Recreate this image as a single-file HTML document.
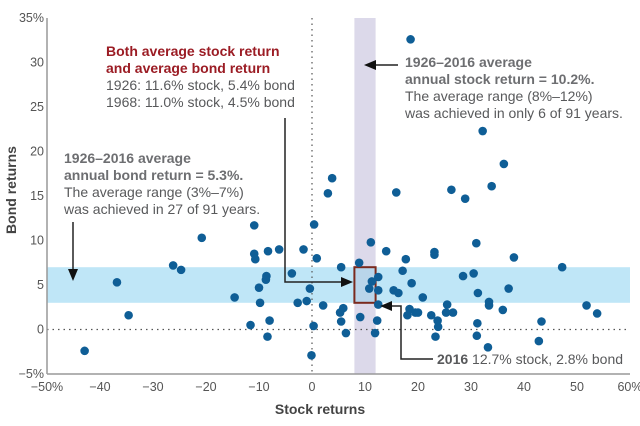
<!DOCTYPE html>
<html><head><meta charset="utf-8">
<style>
html,body{margin:0;padding:0;background:#fff;}
svg{display:block;font-family:"Liberation Sans",Arial,sans-serif;}
</style></head>
<body>
<svg id="chart" width="640" height="426" viewBox="0 0 640 426" xmlns="http://www.w3.org/2000/svg">
<g id="bands"></g>
<g id="axes"></g>
<g id="dots"></g>
<g id="notes"></g>
</svg>
<script>
const xTicks = [-50,-40,-30,-20,-10,0,10,20,30,40,50,60];
const xTickLabels = ["\u221250%","\u221240","\u221230","\u221220","\u221210","0","10","20","30","40","50","60%"];
const yTicks = [-5,0,5,10,15,20,25,30,35];
const yTickLabels = ["\u22125%","0","5","10","15","20","25","30","35%"];
const stockBand = [8,12];
const bondBand = [3,7];
const stockReturns = [-42.9,-36.8,-34.6,-26.2,-24.7,-20.8,-14.6,-11.6,-10.9,-10.9,-10.7,-8.6,-8.7,-10.0,-9.8,-8.0,-8.4,-8.3,-6.2,-3.8,-2.7,-1.6,-1.0,-0.4,0.4,0.9,0.3,-0.1,2.1,
 18.6,32.2,36.2,3.0,3.8,15.9,26.3,33.9,28.9,11.1,14.0,31.0,23.1,23.1,17.7,38.1,47.2,5.5,8.9,17.1,28.5,30.5,12.5,11.3,18.8,10.8,12.5,15.4,16.3,31.3,37.1,20.9,25.5,33.4,33.4,51.8,53.8,12.5,
 5.9,5.3,5.5,6.4,9.1,12.3,11.9,18.4,18.0,19.5,20.0,22.5,23.7,23.8,23.3,25.3,26.6,31.2,31.1,33.2,36.0,43.3,42.8];
const bondReturns = [-2.4,5.3,1.6,7.2,6.7,10.3,3.6,0.5,11.7,8.5,7.9,6.0,5.6,4.7,3.0,1.0,-0.8,8.8,9.0,6.3,3.0,9.0,3.2,4.6,11.8,8.0,0.4,-2.9,2.7,
 32.6,22.3,18.6,15.3,17.0,15.4,15.7,16.1,14.7,9.8,8.8,9.7,8.7,8.4,7.9,8.1,7.0,7.0,7.5,6.6,6.0,6.3,5.9,5.4,5.2,4.6,4.4,4.4,4.1,4.1,4.6,3.6,2.8,3.1,2.7,2.7,1.8,2.8,
 2.4,1.9,0.9,-0.4,1.4,1.0,-0.4,2.3,1.6,1.9,1.9,1.6,1.0,0.3,-0.8,1.9,1.9,0.7,-0.7,-2.0,2.2,0.9,-1.3];

const X0=47, X1=630, Y0=374, Y1=18;
const xs = v => X0 + (v+50)/110*(X1-X0);
const ys = v => Y0 - (v+5)/40*(Y0-Y1);
const NS="http://www.w3.org/2000/svg";
function mk(tag, attrs, parent, text){
  const e=document.createElementNS(NS,tag);
  for(const k in attrs) e.setAttribute(k,attrs[k]);
  if(text!==undefined) e.textContent=text;
  parent.appendChild(e); return e;
}
const bands=document.getElementById('bands'), axes=document.getElementById('axes'),
      dots=document.getElementById('dots'), notes=document.getElementById('notes');

let r=mk('rect',{x:xs(stockBand[0]),y:Y1,width:xs(stockBand[1])-xs(stockBand[0]),height:Y0-Y1,fill:'#dcd9ea'},bands);


r=mk('rect',{x:X0,y:ys(bondBand[1]),width:X1-X0,height:ys(bondBand[0])-ys(bondBand[1]),fill:'#bfe6f7'},bands);


r=mk('rect',{x:xs(stockBand[0]),y:ys(bondBand[1]),width:xs(stockBand[1])-xs(stockBand[0]),height:ys(bondBand[0])-ys(bondBand[1]),fill:'#b9d5ea',stroke:'#7a2a1e','stroke-width':2},bands);



let l=mk('line',{x1:X0,x2:X1,y1:ys(0),y2:ys(0),stroke:'#555','stroke-width':1.2,'stroke-dasharray':'1.5 4'},axes);


l=mk('line',{x1:xs(0),x2:xs(0),y1:Y1,y2:Y0,stroke:'#555','stroke-width':1.2,'stroke-dasharray':'1.5 4'},axes);


l=mk('line',{x1:X0,x2:X0,y1:Y1,y2:Y0,stroke:'#999','stroke-width':1.5},axes);


l=mk('line',{x1:X0,x2:X1,y1:Y0,y2:Y0,stroke:'#999','stroke-width':1.5},axes);



xTicks.forEach((v,i)=>{
  const t=mk('text',{x:xs(v),y:391,'text-anchor':'middle','font-size':12.5,fill:'#555'},axes,xTickLabels[i]);
  
  
});
yTicks.forEach((v,i)=>{
  const t=mk('text',{x:44,y:ys(v)+4,'text-anchor':'end','font-size':12.5,fill:'#555'},axes,yTickLabels[i]);
  
  
});
let t=mk('text',{x:320,y:414,'text-anchor':'middle','font-size':14,'font-weight':'bold',fill:'#444'},axes,'Stock returns');


t=mk('text',{x:0,y:0,'text-anchor':'middle','font-size':14,'font-weight':'bold',fill:'#444',transform:'translate(16,190) rotate(-90)'},axes,'Bond returns');



stockReturns.forEach((s,i)=>{
  const c=mk('circle',{cx:xs(s),cy:ys(bondReturns[i]),r:4.3,fill:'#0f5e96'},dots);
  
  
});

function lines(x,y0,arr,parent,name){
  const g=mk('text',{'font-size':14},parent);
  
  
  arr.forEach((a,i)=>{
    mk('tspan',{x:x,y:y0+i*17,fill:a[1],'font-weight':a[2]?'bold':'normal'},g,a[0]);
  });
}
lines(106,56,[["Both average stock return","#9b1c24",1],["and average bond return","#9b1c24",1],["1926: 11.6% stock, 5.4% bond","#58595b"],["1968: 11.0% stock, 4.5% bond","#58595b"]],notes,'both-average-note');
lines(405,67,[["1926\u20132016 average","#6d6e71",1],["annual stock return = 10.2%.","#6d6e71",1],["The average range (8%\u201312%)","#58595b"],["was achieved in only 6 of 91 years.","#58595b"]],notes,'stock-average-note');
lines(64,163,[["1926\u20132016 average","#6d6e71",1],["annual bond return = 5.3%.","#6d6e71",1],["The average range (3%\u20137%)","#58595b"],["was achieved in 27 of 91 years.","#58595b"]],notes,'bond-average-note');
t=mk('text',{x:437,y:364,'font-size':14,fill:'#58595b'},notes,'');


mk('tspan',{'font-weight':'bold'},t,'2016');
mk('tspan',{},t,' 12.7% stock, 2.8% bond');

function arrow(d,tip,name){
  const p=mk('path',{d:d,fill:'none',stroke:'#222','stroke-width':1.5},notes);
  
  
  const h=mk('path',{d:tip,fill:'#111'},notes);
  
  
}
arrow('M285 118 V282 H344','M353 282 L341 277 L341 287 Z','both-average-arrow');
arrow('M398 65 H372','M364 65 L376 60 L376 70 Z','stock-average-arrow');
arrow('M73 222 V272','M73 281 L68 269 L78 269 Z','bond-average-arrow');
arrow('M433 359 H401 V306 H388','M380 306 L392 301 L392 311 Z','2016-arrow');
</script>
</body></html>
